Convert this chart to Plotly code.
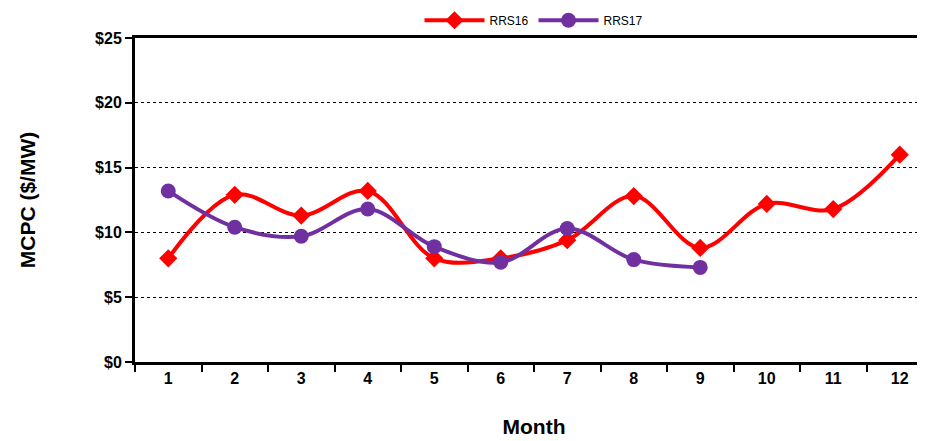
import plotly.graph_objects as go

months = list(range(1, 13))
rrs16 = [8.0, 12.9, 11.3, 13.2, 8.0, 8.0, 9.4, 12.8, 8.8, 12.2, 11.8, 16.0]
months17 = list(range(1, 10))
rrs17 = [13.2, 10.4, 9.7, 11.8, 8.9, 7.7, 10.3, 7.9, 7.3]

fig = go.Figure()
fig.add_trace(go.Scatter(x=months, y=rrs16, name="RRS16", mode="lines+markers",
                         line=dict(color="#FF0000", width=4, shape="spline"),
                         marker=dict(symbol="diamond", size=14, color="#FF0000")))
fig.add_trace(go.Scatter(x=months17, y=rrs17, name="RRS17", mode="lines+markers",
                         line=dict(color="#7030A0", width=4, shape="spline"),
                         marker=dict(symbol="circle", size=15, color="#7030A0")))

fig.update_layout(
    width=925, height=441, plot_bgcolor="white", paper_bgcolor="white",
    margin=dict(l=127, r=0, t=30, b=87, autoexpand=False),
    font=dict(family="Liberation Sans, Arial", color="black"),
    legend=dict(orientation="h", x=0.5, xanchor="center", y=1.01, yanchor="bottom",
                font=dict(size=12), itemwidth=60, bgcolor="rgba(0,0,0,0)",
                tracegroupgap=0, borderwidth=0),
)
fig.update_xaxes(range=[0.5, 12.5], tickvals=months, ticks="", automargin=False,
                 tickfont=dict(size=16, weight="bold"),
                 showline=True, linecolor="black", linewidth=3, showgrid=False, mirror=True,
                 minor=dict(tick0=0.5, dtick=1, ticks="outside", ticklen=7,
                            tickwidth=2, tickcolor="black"),
                 title=dict(text="Month", font=dict(size=21, weight="bold"), standoff=34))
fig.update_yaxes(range=[0, 25], dtick=5, tickprefix="$", automargin=False,
                 tickfont=dict(size=16, weight="bold"), tickformat="d",
                 ticks="outside", ticklen=7, tickwidth=2, tickcolor="black",
                 showline=True, linecolor="black", linewidth=3, mirror=True,
                 gridcolor="black", griddash="dot", gridwidth=0.7, zeroline=False,
                 title=dict(text="MCPC ($/MW)", font=dict(size=21, weight="bold"), standoff=54))
fig.write_html("out.html")
